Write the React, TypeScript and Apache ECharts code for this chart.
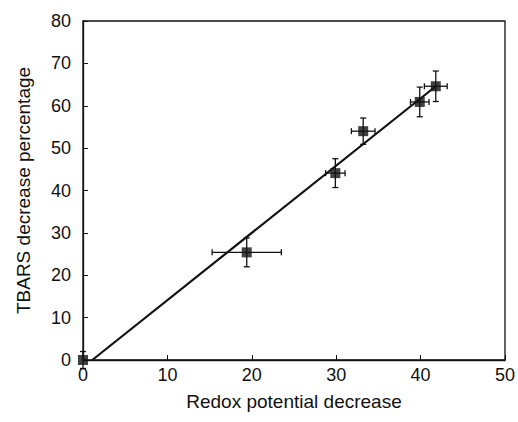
import React, { useEffect, useRef } from "react";
import * as echarts from "echarts";

const xVals = [0, 19.4, 29.9, 33.2, 39.9, 41.8];
const yVals = [0, 25.4, 44.1, 54.0, 60.9, 64.6];
const xErr = [0, 4.1, 1.15, 1.4, 1.1, 1.35];
const yErr = [2, 3.4, 3.4, 3.1, 3.5, 3.6];
const fitX = [1.1, 41.8];
const fitY = [0, 64.6];

export default function App() {
  const ref = useRef<HTMLDivElement>(null);
  useEffect(() => {
    if (!ref.current) return;
    const chart = echarts.init(ref.current, undefined, { renderer: "svg" });
    const font = "Liberation Sans, Arial, sans-serif";
    const points = xVals.map((x, i) => [x, yVals[i]]);
    const errData = xVals.map((x, i) => [x, yVals[i], xErr[i], yErr[i]]);
    const cap = 3;
    chart.setOption({
      animation: false,
      grid: {
        left: 83,
        top: 21,
        right: 9,
        bottom: 62,
        show: true,
        borderColor: "#111",
        borderWidth: 1.3,
        backgroundColor: "transparent",
      },
      xAxis: {
        type: "value",
        min: 0,
        max: 50,
        interval: 10,
        name: "Redox potential decrease",
        nameLocation: "middle",
        nameGap: 32,
        nameTextStyle: { fontFamily: font, fontSize: 19, color: "#111" },
        axisLine: { show: true, lineStyle: { color: "#111", width: 1.3 } },
        axisTick: { show: true, inside: true, length: 5, lineStyle: { color: "#111" } },
        axisLabel: { fontFamily: font, fontSize: 18, color: "#111", margin: 6 },
        splitLine: { show: false },
      },
      yAxis: {
        type: "value",
        min: 0,
        max: 80,
        interval: 10,
        name: "TBARS decrease percentage",
        nameLocation: "middle",
        nameGap: 50,
        nameTextStyle: { fontFamily: font, fontSize: 19, color: "#111" },
        axisLine: { show: true, lineStyle: { color: "#111", width: 1.3 } },
        axisTick: { show: true, inside: true, length: 5, lineStyle: { color: "#111" } },
        axisLabel: { fontFamily: font, fontSize: 18, color: "#111", margin: 12 },
        splitLine: { show: false },
      },
      series: [
        {
          type: "line",
          data: fitX.map((x, i) => [x, fitY[i]]),
          symbol: "none",
          lineStyle: { color: "#111", width: 2.2 },
          z: 2,
        },
        {
          type: "custom",
          data: errData,
          z: 3,
          renderItem: (params: any, api: any) => {
            const x = api.value(0);
            const y = api.value(1);
            const ex = api.value(2);
            const ey = api.value(3);
            const l = api.coord([x - ex, y]);
            const r = api.coord([x + ex, y]);
            const t = api.coord([x, y + ey]);
            const b = api.coord([x, y - ey]);
            const style = { stroke: "#111", lineWidth: 1.3 };
            const children: any[] = [
              { type: "line", shape: { x1: t[0], y1: t[1], x2: b[0], y2: b[1] }, style },
              { type: "line", shape: { x1: t[0] - cap, y1: t[1], x2: t[0] + cap, y2: t[1] }, style },
              { type: "line", shape: { x1: b[0] - cap, y1: b[1], x2: b[0] + cap, y2: b[1] }, style },
            ];
            if (ex > 0) {
              children.push(
                { type: "line", shape: { x1: l[0], y1: l[1], x2: r[0], y2: r[1] }, style },
                { type: "line", shape: { x1: l[0], y1: l[1] - cap, x2: l[0], y2: l[1] + cap }, style },
                { type: "line", shape: { x1: r[0], y1: r[1] - cap, x2: r[0], y2: r[1] + cap }, style }
              );
            }
            return { type: "group", children };
          },
        },
        {
          type: "scatter",
          data: points,
          symbol: "rect",
          symbolSize: 10,
          itemStyle: { color: "#111" },
          z: 4,
        },
      ],
    });
    return () => chart.dispose();
  }, []);
  return (
    <div
      ref={ref}
      style={{ position: "fixed", left: 0, top: 0, width: 518, height: 422, background: "#fff" }}
    />
  );
}
